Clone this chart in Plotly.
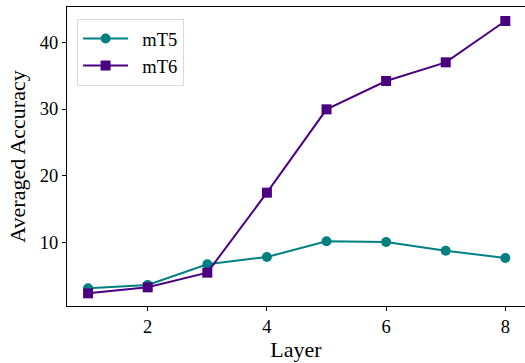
import plotly.graph_objects as go

layers = [1, 2, 3, 4, 5, 6, 7, 8]
mt5 = [3.1, 3.6, 6.7, 7.8, 10.15, 10.05, 8.75, 7.65]
mt6 = [2.35, 3.25, 5.45, 17.45, 29.95, 34.2, 37.0, 43.2]
x_ticks = [2, 4, 6, 8]
y_ticks = [10, 20, 30, 40]

font = "Liberation Serif, Times New Roman, serif"

fig = go.Figure()
fig.add_trace(go.Scatter(x=layers, y=mt5, mode="lines+markers", name="&nbsp;&nbsp;mT5",
                         line=dict(color="#008080", width=2),
                         marker=dict(symbol="circle", size=10, color="#008080")))
fig.add_trace(go.Scatter(x=layers, y=mt6, mode="lines+markers", name="&nbsp;&nbsp;mT6",
                         line=dict(color="#4B0082", width=2),
                         marker=dict(symbol="square", size=10, color="#4B0082")))

fig.update_layout(
    width=525, height=363,
    margin=dict(l=67, r=0, t=7, b=57, autoexpand=False),
    plot_bgcolor="white", paper_bgcolor="white",
    font=dict(family=font, size=18.5, color="black"),
    showlegend=True,
    legend=dict(x=0.022, y=0.96, xanchor="left", yanchor="top",
                bordercolor="#d9d9d9", borderwidth=1, bgcolor="white",
                font=dict(size=18.5), tracegroupgap=0, itemwidth=45),
    xaxis=dict(range=[0.646, 8.33], tickvals=x_ticks, ticks="outside", ticklen=4,
               tickwidth=1, tickcolor="black", showline=True, linecolor="black",
               linewidth=1.2, mirror=True, showgrid=False, zeroline=False,
               automargin=False,
               title=dict(text="Layer", standoff=4)),
    yaxis=dict(range=[0.45, 45.3], tickvals=y_ticks, ticks="outside", ticklen=4,
               tickwidth=1, tickcolor="black", showline=True, linecolor="black",
               linewidth=1.2, mirror=False, showgrid=False, zeroline=False,
               automargin=False,
               title=dict(text="Averaged Accuracy", standoff=8)),
)

fig.write_html("out.html", config={"displayModeBar": False},
               post_script="document.body.style.margin='0';document.body.style.overflow='hidden';")
